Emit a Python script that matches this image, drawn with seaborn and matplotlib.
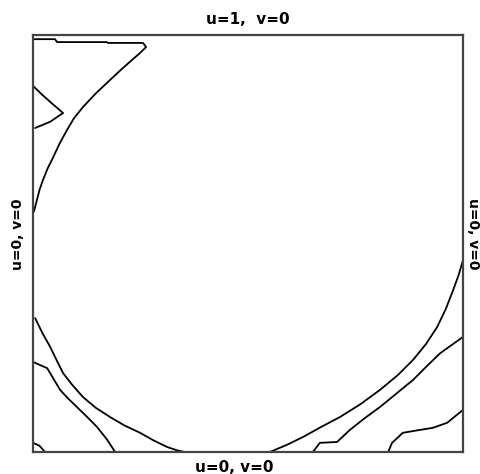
import matplotlib
matplotlib.use("Agg")
import matplotlib.pyplot as plt
import seaborn as sns
import pandas as pd

# Streamline traces (fractions of cavity width / height)
top_left_x = [0.0, 0.051, 0.056, 0.172, 0.174, 0.256, 0.263, 0.248, 0.230, 0.205, 0.179, 0.146, 0.116, 0.095, 0.079, 0.062, 0.047, 0.034, 0.023, 0.015, 0.009, 0.002]
top_left_y = [0.990, 0.990, 0.983, 0.983, 0.981, 0.981, 0.971, 0.956, 0.940, 0.917, 0.892, 0.860, 0.827, 0.800, 0.772, 0.740, 0.707, 0.680, 0.652, 0.628, 0.604, 0.576]
wedge_x = [0.0, 0.020, 0.045, 0.070, 0.040, 0.005]
wedge_y = [0.878, 0.858, 0.835, 0.813, 0.792, 0.777]
bl_outer_x = [0.005, 0.022, 0.040, 0.055, 0.070, 0.092, 0.116, 0.146, 0.179, 0.212, 0.249, 0.280, 0.312, 0.335, 0.353]
bl_outer_y = [0.321, 0.285, 0.252, 0.220, 0.189, 0.160, 0.132, 0.106, 0.084, 0.064, 0.046, 0.028, 0.012, 0.004, 0.0]
bl_inner_x = [0.0, 0.033, 0.048, 0.063, 0.082, 0.102, 0.125, 0.149, 0.172, 0.191]
bl_inner_y = [0.216, 0.201, 0.175, 0.149, 0.128, 0.108, 0.085, 0.060, 0.030, 0.0]
bl_corner_x = [0.0, 0.015, 0.028]
bl_corner_y = [0.022, 0.015, 0.0]
br_outer_x = [1.0, 0.990, 0.977, 0.960, 0.940, 0.914, 0.884, 0.848, 0.807, 0.762, 0.714, 0.670, 0.628, 0.590, 0.551]
br_outer_y = [0.460, 0.425, 0.388, 0.343, 0.300, 0.259, 0.221, 0.184, 0.149, 0.115, 0.084, 0.060, 0.036, 0.017, 0.0]
br_mid_x = [1.0, 0.947, 0.915, 0.884, 0.845, 0.807, 0.770, 0.737, 0.707, 0.667, 0.651]
br_mid_y = [0.276, 0.237, 0.205, 0.173, 0.140, 0.108, 0.080, 0.053, 0.024, 0.022, 0.0]
br_corner_x = [1.0, 0.963, 0.930, 0.900, 0.860, 0.835, 0.826]
br_corner_y = [0.101, 0.070, 0.058, 0.053, 0.046, 0.022, 0.0]

curves = {
    "top_left": (top_left_x, top_left_y),
    "wedge": (wedge_x, wedge_y),
    "bl_outer": (bl_outer_x, bl_outer_y),
    "bl_inner": (bl_inner_x, bl_inner_y),
    "bl_corner": (bl_corner_x, bl_corner_y),
    "br_outer": (br_outer_x, br_outer_y),
    "br_mid": (br_mid_x, br_mid_y),
    "br_corner": (br_corner_x, br_corner_y),
}

rows = []
for name, (xs, ys) in curves.items():
    for i, (x, y) in enumerate(zip(xs, ys)):
        rows.append({"curve": name, "order": i, "x": x, "y": y})
df = pd.DataFrame(rows)

top_label = "u=1,  v=0"
bottom_label = "u=0, v=0"
left_label = "u=0, v=0"
right_label = "u=0, v=0"

sns.set_theme(style="white")
plt.rcParams["font.family"] = ["DejaVu Sans"]

fig = plt.figure(figsize=(4.8, 4.74), dpi=100)
ax = fig.add_axes([33 / 480, 22 / 474, 430 / 480, 417 / 474])

sns.lineplot(data=df, x="x", y="y", units="curve", estimator=None, sort=False,
             color="black", linewidth=1.3, ax=ax, legend=False)

ax.set_xlim(0, 1)
ax.set_ylim(0, 1)
ax.set_xticks([])
ax.set_yticks([])
ax.set_xlabel("")
ax.set_ylabel("")
for s in ax.spines.values():
    s.set_color("#444444")
    s.set_linewidth(1.6)
    s.set_visible(True)

kw = dict(ha="center", va="center", fontweight="bold", color="black")
fig.text(248 / 480, 1 - 20 / 474, top_label, fontsize=11, **kw)
fig.text(234 / 480, 1 - 467 / 474, bottom_label, fontsize=11, **kw)
fig.text(18 / 480, 1 - 234 / 474, left_label, rotation=90, fontsize=10, **kw)
fig.text(473 / 480, 1 - 234 / 474, right_label, rotation=-90, fontsize=10, **kw)

fig.savefig("out.png", dpi=100, facecolor="white")
